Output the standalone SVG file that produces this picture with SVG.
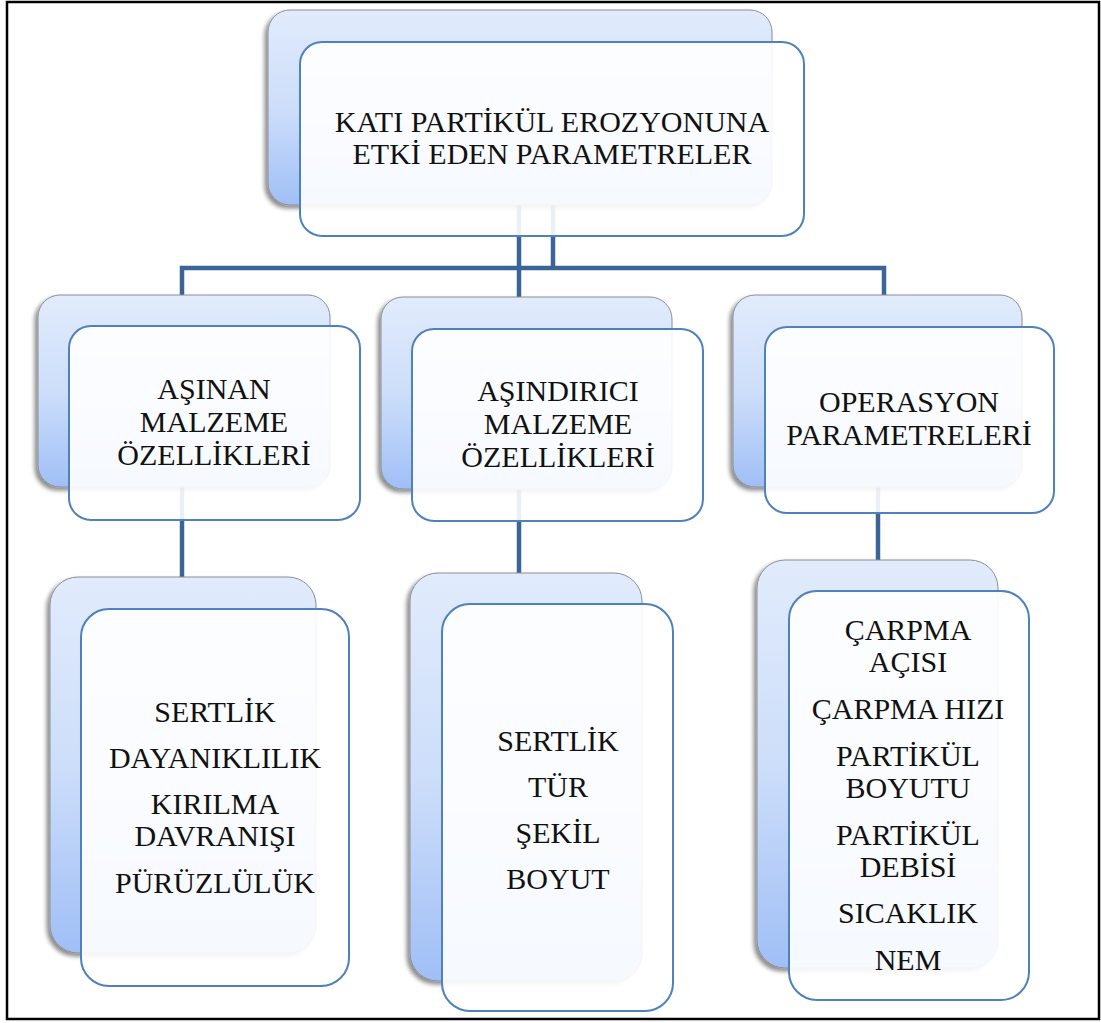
<svg xmlns="http://www.w3.org/2000/svg" width="1101" height="1023" viewBox="0 0 1101 1023">
<defs>
<linearGradient id="bg" x1="0" y1="0" x2="0" y2="1">
<stop offset="0" stop-color="#e1ebfc"/>
<stop offset="0.5" stop-color="#cddefa"/>
<stop offset="1" stop-color="#a0bff6"/>
</linearGradient>
<filter id="sh" x="-10%" y="-10%" width="120%" height="120%">
<feDropShadow dx="-3" dy="3" stdDeviation="2" flood-color="#000" flood-opacity="0.45"/>
</filter>
</defs>
<style>
.back{fill:url(#bg);stroke:#8a8f96;stroke-width:1;filter:url(#sh)}
.front{fill:#ffffff;fill-opacity:0.9;stroke:#4f81bd;stroke-width:2}
.t{font-family:"Liberation Serif","Times New Roman",serif;font-size:30px;fill:#111;text-anchor:middle}
.c{fill:none;stroke:#3b6497;stroke-width:4.5}
</style>
<rect x="0" y="0" width="1101" height="1023" fill="#fff"/>
<rect x="7" y="2" width="1092" height="1017" fill="none" stroke="#000" stroke-width="2.5"/>
<g id="connectors">
<path class="c" d="M519,205 V297"/>
<path class="c" d="M553,205 V268"/>
<path class="c" d="M182,295 V268 H884 V295"/>
<path class="c" d="M182,487 V577"/>
<path class="c" d="M519,489 V573"/>
<path class="c" d="M878,487 V560"/>
</g>
<g id="root">
<rect class="back" x="268" y="10" width="504" height="195" rx="22"/>
<rect class="front" x="300" y="42" width="504" height="194" rx="22"/>
<text class="t" x="552" y="132">KATI PARTİKÜL EROZYONUNA</text>
<text class="t" x="552" y="164">ETKİ EDEN PARAMETRELER</text>
</g>
<g id="asinan">
<rect class="back" x="38" y="295" width="292" height="192" rx="22"/>
<rect class="front" x="69" y="326" width="291" height="194" rx="22"/>
<text class="t" x="214" y="399">AŞINAN</text>
<text class="t" x="214" y="432">MALZEME</text>
<text class="t" x="214" y="465">ÖZELLİKLERİ</text>
</g>
<g id="asindirici">
<rect class="back" x="381" y="297" width="291" height="192" rx="22"/>
<rect class="front" x="412" y="329" width="291" height="192" rx="22"/>
<text class="t" x="558" y="401">AŞINDIRICI</text>
<text class="t" x="558" y="434">MALZEME</text>
<text class="t" x="558" y="467">ÖZELLİKLERİ</text>
</g>
<g id="operasyon">
<rect class="back" x="733" y="295" width="289" height="192" rx="22"/>
<rect class="front" x="765" y="327" width="289" height="186" rx="22"/>
<text class="t" x="909" y="412">OPERASYON</text>
<text class="t" x="909" y="445">PARAMETRELERİ</text>
</g>
<g id="asinan-items">
<rect class="back" x="50" y="577" width="266" height="376" rx="28"/>
<rect class="front" x="81" y="609" width="268" height="377" rx="28"/>
<text class="t" x="215" y="722">SERTLİK</text>
<text class="t" x="215" y="768">DAYANIKLILIK</text>
<text class="t" x="215" y="814">KIRILMA</text>
<text class="t" x="215" y="846">DAVRANIŞI</text>
<text class="t" x="215" y="893">PÜRÜZLÜLÜK</text>
</g>
<g id="asindirici-items">
<rect class="back" x="410" y="573" width="232" height="408" rx="28"/>
<rect class="front" x="442" y="604" width="231" height="407" rx="28"/>
<text class="t" x="558" y="751">SERTLİK</text>
<text class="t" x="558" y="797">TÜR</text>
<text class="t" x="558" y="843">ŞEKİL</text>
<text class="t" x="558" y="889">BOYUT</text>
</g>
<g id="operasyon-items">
<rect class="back" x="757" y="560" width="241" height="408" rx="28"/>
<rect class="front" x="789" y="591" width="240" height="409" rx="28"/>
<text class="t" x="908" y="640">ÇARPMA</text>
<text class="t" x="908" y="672">AÇISI</text>
<text class="t" x="908" y="719">ÇARPMA HIZI</text>
<text class="t" x="908" y="766">PARTİKÜL</text>
<text class="t" x="908" y="798">BOYUTU</text>
<text class="t" x="908" y="845">PARTİKÜL</text>
<text class="t" x="908" y="877">DEBİSİ</text>
<text class="t" x="908" y="923">SICAKLIK</text>
<text class="t" x="908" y="970">NEM</text>
</g>
</svg>
